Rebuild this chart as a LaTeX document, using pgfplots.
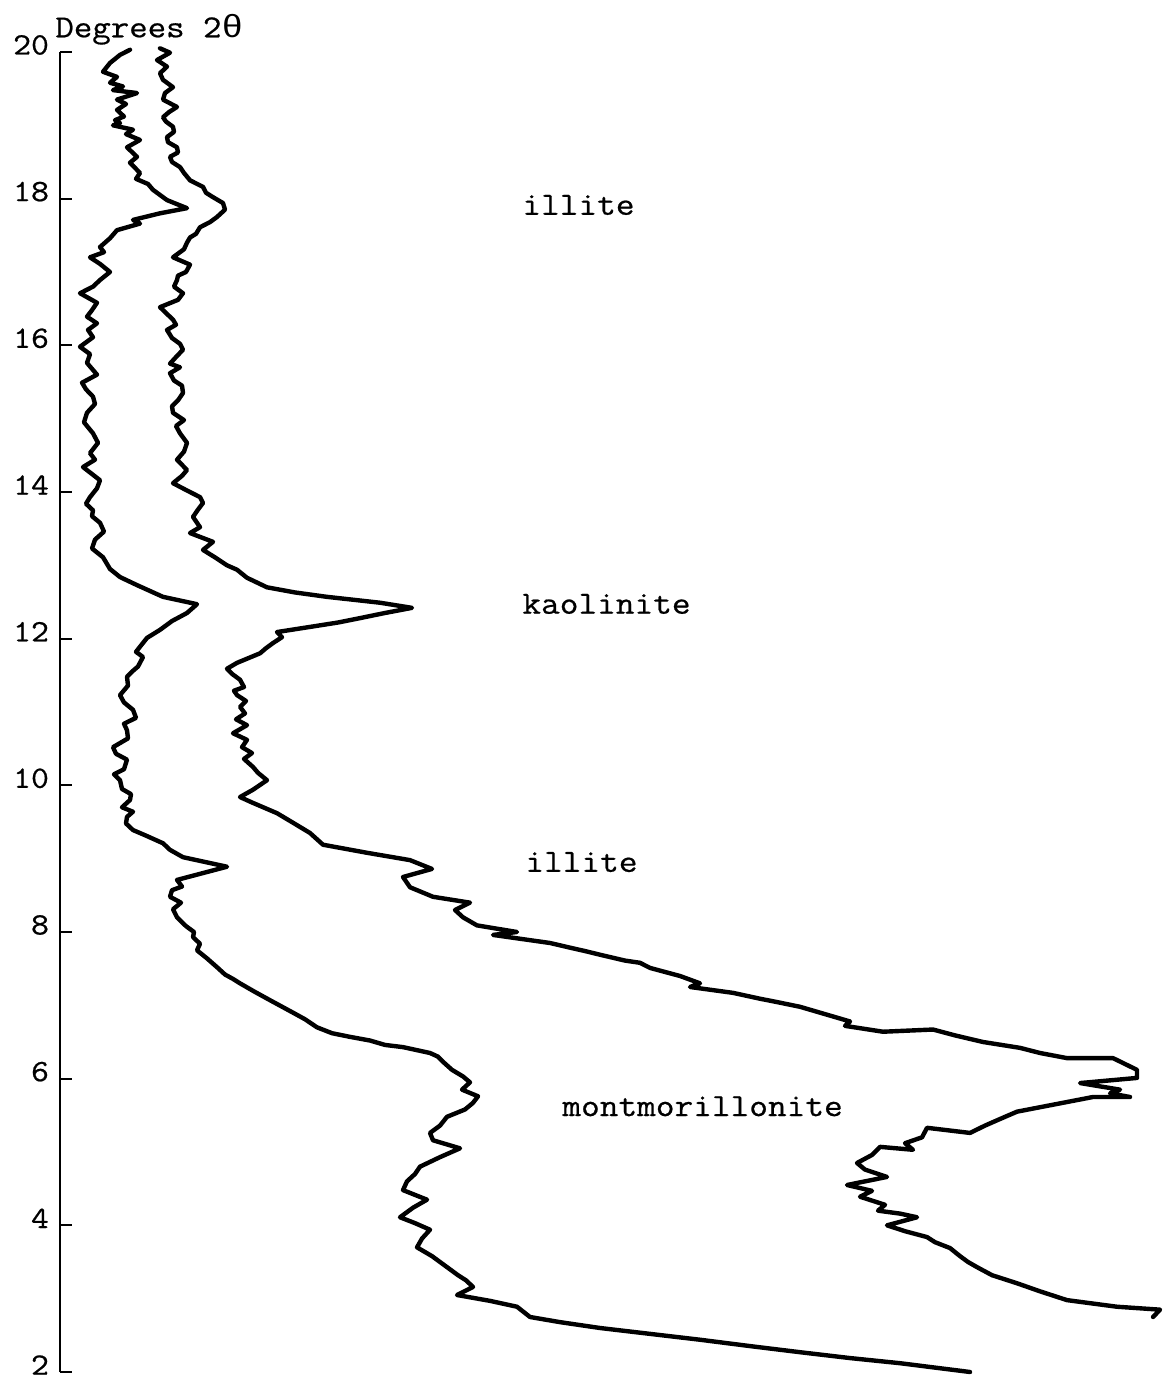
\documentclass[border=0pt]{standalone}
\usepackage{pgfplots}
\pgfplotsset{compat=1.18}
\usepackage{pgfplotstable}
\usepackage{graphicx}
\usepackage{fontspec}
\setmainfont{Liberation Mono}
\newfontfamily\tw[FakeBold=0.6]{lmmono12-regular.otf}
\newfontfamily\greek{Liberation Mono}

% curve A (left trace): x = intensity (chart units), y = degrees 2theta
\pgfplotstableread{
x y
130 20.03
120 19.96
110 19.85
103 19.73
117 19.66
110 19.58
123 19.53
113 19.48
137 19.44
117 19.35
126 19.29
117 19.21
124 19.12
115 19.07
120 19.03
113 19.00
133 18.94
126 18.88
140 18.80
127 18.70
137 18.57
130 18.49
140 18.35
136 18.27
148 18.20
153 18.12
167 17.98
187 17.87
160 17.80
133 17.71
140 17.66
117 17.57
110 17.46
100 17.34
104 17.27
90 17.20
100 17.11
110 17.00
100 16.89
93 16.80
80 16.71
97 16.58
92 16.48
87 16.39
97 16.30
88 16.21
93 16.11
80 15.98
90 15.88
87 15.76
97 15.60
82 15.49
86 15.40
93 15.30
95 15.20
87 15.08
84 14.95
93 14.80
98 14.67
90 14.53
95 14.44
83 14.34
100 14.16
97 14.05
90 13.93
86 13.84
93 13.75
92 13.67
100 13.58
104 13.46
95 13.35
92 13.23
103 13.11
110 12.95
120 12.84
137 12.73
163 12.57
197 12.47
187 12.35
172 12.24
160 12.12
147 12.01
140 11.89
136 11.82
143 11.75
138 11.62
132 11.55
127 11.48
128 11.36
120 11.23
124 11.13
133 11.03
136 10.92
124 10.84
127 10.75
128 10.64
113 10.52
116 10.43
127 10.35
124 10.22
114 10.15
120 10.07
122 9.95
131 9.88
130 9.80
122 9.70
133 9.64
127 9.57
126 9.48
133 9.39
145 9.32
163 9.21
170 9.12
183 9.02
227 8.89
177 8.71
182 8.62
172 8.57
170 8.48
181 8.40
173 8.31
177 8.20
186 8.08
194 8.00
193 7.93
200 7.84
197 7.75
207 7.64
217 7.52
225 7.42
233 7.36
240 7.30
254 7.19
270 7.07
293 6.90
305 6.81
317 6.70
332 6.62
350 6.57
370 6.52
385 6.46
403 6.43
430 6.35
438 6.30
443 6.23
452 6.12
463 6.03
470 5.95
462 5.85
478 5.76
473 5.67
465 5.58
447 5.48
440 5.36
430 5.26
433 5.16
460 5.05
440 4.93
420 4.80
415 4.70
407 4.60
403 4.48
427 4.35
413 4.24
400 4.11
415 4.03
430 3.94
422 3.82
417 3.70
432 3.58
440 3.50
447 3.43
458 3.32
466 3.25
473 3.16
457 3.05
490 2.97
517 2.89
530 2.75
560 2.68
600 2.60
650 2.52
700 2.44
752 2.35
800 2.27
850 2.19
900 2.12
935 2.06
970 2.00
}\curveA

% curve B (right trace)
\pgfplotstableread{
x y
160 20.05
170 19.99
157 19.89
167 19.80
160 19.71
163 19.62
173 19.52
165 19.44
163 19.35
177 19.25
169 19.18
163 19.11
166 19.05
173 18.98
174 18.91
167 18.84
168 18.77
177 18.70
178 18.63
170 18.57
172 18.50
180 18.43
184 18.35
190 18.25
203 18.16
206 18.08
213 18.02
223 17.94
225 17.85
217 17.75
210 17.68
200 17.61
196 17.52
190 17.47
187 17.40
184 17.31
173 17.20
190 17.10
186 17.00
178 16.95
177 16.89
174 16.80
183 16.71
178 16.62
160 16.52
166 16.44
173 16.35
176 16.28
167 16.21
172 16.10
180 16.02
183 15.94
176 15.84
170 15.75
180 15.70
170 15.62
174 15.52
182 15.45
183 15.35
178 15.25
172 15.17
173 15.08
184 14.98
176 14.90
180 14.80
187 14.67
184 14.55
177 14.44
187 14.30
182 14.22
173 14.12
187 14.02
200 13.93
203 13.85
198 13.76
193 13.66
200 13.52
190 13.44
213 13.32
203 13.21
216 13.10
227 13.00
237 12.94
247 12.83
267 12.70
295 12.63
327 12.57
380 12.49
412 12.42
385 12.35
360 12.28
338 12.22
310 12.16
277 12.09
282 12.02
273 11.94
266 11.87
260 11.80
237 11.67
227 11.59
232 11.52
240 11.44
244 11.34
234 11.29
237 11.23
246 11.15
240 11.07
245 10.98
236 10.90
247 10.82
233 10.71
247 10.62
242 10.52
252 10.44
244 10.36
253 10.25
258 10.17
267 10.07
253 9.94
240 9.84
253 9.76
277 9.62
293 9.49
310 9.35
323 9.19
367 9.08
410 8.98
432 8.86
403 8.75
410 8.61
433 8.48
470 8.40
455 8.30
463 8.20
477 8.09
517 8.00
493 7.96
550 7.85
572 7.78
585 7.74
600 7.69
625 7.61
640 7.58
650 7.51
680 7.40
700 7.30
690 7.25
733 7.17
760 7.09
775 7.05
800 6.98
830 6.86
850 6.78
845 6.72
883 6.64
933 6.67
955 6.59
983 6.50
1020 6.42
1040 6.35
1067 6.28
1113 6.28
1125 6.20
1137 6.12
1137 6.01
1080 5.94
1120 5.85
1110 5.80
1130 5.75
1093 5.75
1055 5.65
1017 5.55
1000 5.45
985 5.36
970 5.26
927 5.33
922 5.20
905 5.12
913 5.03
880 5.07
872 4.96
857 4.85
865 4.76
887 4.66
847 4.55
872 4.47
860 4.39
885 4.28
878 4.20
900 4.16
917 4.11
887 4.00
905 3.92
927 3.84
935 3.77
950 3.69
960 3.58
968 3.50
977 3.43
992 3.32
1017 3.21
1040 3.10
1067 2.98
1117 2.89
1160 2.85
1153 2.75
}\curveB

\newcommand\lab[1]{\scalebox{1.12}[1]{#1}}

\begin{document}
\begin{tikzpicture}
\begin{axis}[
  scale only axis,
  width=551.5pt, height=660pt,
  xmin=60, xmax=1163,
  ymin=2, ymax=20,
  axis y line*=left,
  hide x axis,
  clip=false,
  ytick={2,4,...,20},
  tick align=inside,
  ytick pos=left,
  major tick length=6pt,
  every tick/.style={black, line width=1pt},
  axis line style={black, line width=0.8pt},
  yticklabel style={font=\fontsize{15.5}{15.5}\selectfont\tw, xshift=-2pt, yshift=3.5pt},
  yticklabel={\lab{\pgfmathprintnumber{\tick}}},
  /pgf/number format/assume math mode=true,
]
\addplot[black, line width=2.2pt, line join=round, line cap=round] table[x=x,y=y] {\curveA};
\addplot[black, line width=2.2pt, line join=round, line cap=round] table[x=x,y=y] {\curveB};

\node[anchor=base west, inner sep=0pt, font=\fontsize{16}{16}\selectfont\tw] at (axis cs:55,20.20) {\lab{Degrees 2{\greek θ}}};
\node[anchor=base west, inner sep=0pt, font=\fontsize{16.2}{16.2}\selectfont\tw] at (axis cs:522,17.78) {\lab{illite}};
\node[anchor=base west, inner sep=0pt, font=\fontsize{16.2}{16.2}\selectfont\tw] at (axis cs:522,12.34) {\lab{kaolinite}};
\node[anchor=base west, inner sep=0pt, font=\fontsize{16.2}{16.2}\selectfont\tw] at (axis cs:525,8.82) {\lab{illite}};
\node[anchor=base west, inner sep=0pt, font=\fontsize{16.2}{16.2}\selectfont\tw] at (axis cs:562,5.49) {\lab{montmorillonite}};

\coordinate (bbA) at (axis cs:0,1.891);
\coordinate (bbB) at (axis cs:1163,20.709);
\end{axis}
\pgfresetboundingbox
\path[use as bounding box] (bbA) rectangle (bbB);
\end{tikzpicture}
\end{document}
